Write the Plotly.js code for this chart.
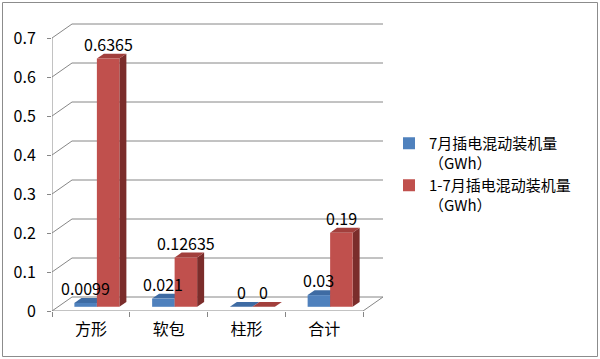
<!DOCTYPE html>
<html>
<head>
<meta charset="utf-8">
<script src="https://cdn.plot.ly/plotly-3.0.1.min.js"></script>
<style>html,body{margin:0;padding:0;background:#fff;}#chart{width:600px;height:359px;}</style>
</head>
<body>
<div id="chart"></div>
<script>
const categories = ['方形', '软包', '柱形', '合计'];
const julyValues = [0.0099, 0.021, 0, 0.03];
const ytdValues = [0.6365, 0.12635, 0, 0.19];
const seriesNames = ['7月插电混动装机量<br>（GWh）', '1-7月插电混动装机量<br>（GWh）'];
const yTicks = [0, 0.1, 0.2, 0.3, 0.4, 0.5, 0.6, 0.7];

// 3D look parameters (in axis units)
const pxPerCat = 77.75, pxPerUnit = 390;
const dxU = 20 / pxPerCat, dyU = 14 / pxPerUnit;
const fz = 0.3, bz = 0.65;           // bar front / back depth fractions
const barW = 22.5 / pxPerCat;
const xMin = -0.5, xMax = -0.5 + 331 / pxPerCat;
const yMax = 289 / pxPerUnit;
const gridColor = '#868686';
const FONT = 'Noto Sans CJK SC, Noto Sans, sans-serif';

const colors = {
  blue: {front: '#4F81BD', side: '#385E8C', top: '#3E6BA3'},
  red: {front: '#C0504D', side: '#7B2D2B', top: '#A23F3C'}
};

const shapes = [];
// back wall gridlines with left-wall diagonals
yTicks.forEach(v => {
  if (v === 0) return;
  shapes.push({type: 'path', xref: 'x', yref: 'y', layer: 'below',
    path: `M${xMin},${v} L${xMin + dxU},${v + dyU} L${3.5 + dxU},${v + dyU}`,
    line: {color: gridColor, width: 1}});
});
// floor
shapes.push({type: 'path', xref: 'x', yref: 'y', layer: 'below',
  path: `M${xMin},0 L3.5,0 L${3.5 + dxU},${dyU} L${xMin + dxU},${dyU} Z`,
  fillcolor: '#ffffff', line: {color: gridColor, width: 1}});
// left axis line
shapes.push({type: 'line', xref: 'x', yref: 'y', layer: 'below',
  x0: xMin, x1: xMin, y0: 0, y1: 0.7, line: {color: gridColor, width: 1}});

function addBar3D(i, v, left, c) {
  const b = fz * dyU;
  const x0 = i + fz * dxU + (left ? -barW : 0);
  const x1 = x0 + barW;
  const top = b + v;
  const ddx = (bz - fz) * dxU, ddy = (bz - fz) * dyU;
  shapes.push({type: 'path', xref: 'x', yref: 'y', layer: 'below',
    path: `M${x1},${b} L${x1 + ddx},${b + ddy} L${x1 + ddx},${top + ddy} L${x1},${top} Z`,
    fillcolor: c.side, line: {width: 0}});
  shapes.push({type: 'path', xref: 'x', yref: 'y', layer: 'below',
    path: `M${x0},${top} L${x1},${top} L${x1 + ddx},${top + ddy} L${x0 + ddx},${top + ddy} Z`,
    fillcolor: c.top, line: {width: 0}});
}
categories.forEach((c, i) => addBar3D(i, julyValues[i], true, colors.blue));
categories.forEach((c, i) => addBar3D(i, ytdValues[i], false, colors.red));

// outer border (paper coords relative to plot area: 52..383 x 22..311)
shapes.push({type: 'rect', xref: 'paper', yref: 'paper', layer: 'above',
  x0: (2.5 - 52) / 331, x1: (597.5 - 52) / 331,
  y0: -(356.5 - 311) / 289, y1: (311 - 2.5) / 289,
  line: {color: '#8c8c8c', width: 1}});

const annotations = [];
function addLabel(i, v, left) {
  const xc = i + fz * dxU + (left ? -barW / 2 : barW / 2);
  annotations.push({x: xc, y: fz * dyU + v, xref: 'x', yref: 'y', text: String(v),
    showarrow: false, yanchor: 'middle', yshift: 15,
    font: {family: FONT, size: 16, color: '#000'}});
}
categories.forEach((c, i) => { addLabel(i, julyValues[i], true); addLabel(i, ytdValues[i], false); });

const traces = [
  {type: 'bar', name: seriesNames[0], x: categories, y: julyValues, legendgroup: 'a',
   base: fz * dyU, offset: fz * dxU - barW, width: barW,
   marker: {color: colors.blue.front}, hoverinfo: 'x+y'},
  {type: 'bar', name: seriesNames[1], x: categories, y: ytdValues, legendgroup: 'b',
   base: fz * dyU, offset: fz * dxU, width: barW,
   marker: {color: colors.red.front}, hoverinfo: 'x+y'}
];

const layout = {
  width: 600, height: 359,
  margin: {l: 52, r: 600 - 383, t: 22, b: 359 - 311, autoexpand: false},
  paper_bgcolor: '#ffffff', plot_bgcolor: '#ffffff',
  barmode: 'overlay',
  font: {family: FONT, size: 16, color: '#000'},
  xaxis: {type: 'category', range: [xMin, xMax], showgrid: false, zeroline: false,
    showline: false, ticks: 'outside', tickson: 'boundaries', ticklen: 5,
    tickcolor: gridColor, ticklabelstandoff: 7, fixedrange: true, automargin: false,
    tickfont: {family: FONT, size: 16, color: '#000'}},
  yaxis: {range: [0, yMax], tickvals: yTicks, ticktext: yTicks.map(String),
    showgrid: false, zeroline: false, showline: false, ticks: 'outside',
    ticklen: 4, tickcolor: gridColor, ticklabelstandoff: 8, fixedrange: true, automargin: false,
    tickfont: {family: FONT, size: 16, color: '#000'}},
  legend: {x: 389 / 600, xref: 'container', y: 1 - 127 / 359, yref: 'container', yanchor: 'top', xanchor: 'left',
    valign: 'top', bgcolor: 'rgba(0,0,0,0)', traceorder: 'normal', tracegroupgap: 10,
    font: {family: FONT, size: 15, color: '#000'}},
  shapes: shapes,
  annotations: annotations,
  showlegend: true
};

Plotly.newPlot('chart', traces, layout, {displayModeBar: false, staticPlot: true});
</script>
</body>
</html>
